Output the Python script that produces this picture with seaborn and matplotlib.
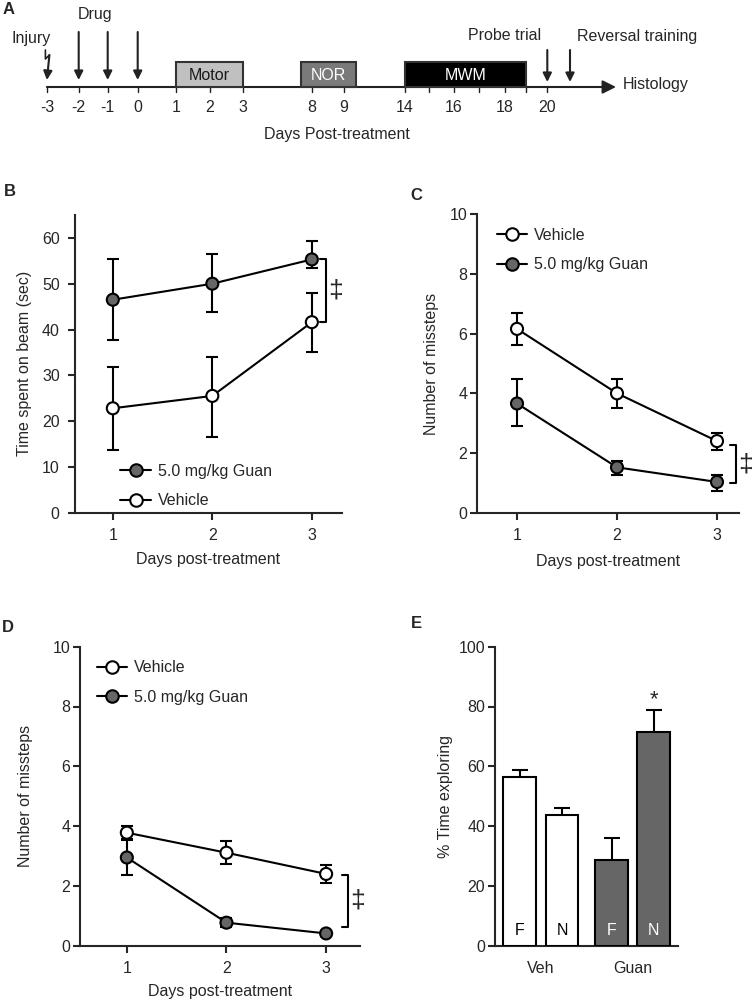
import numpy as np
import pandas as pd
import matplotlib
matplotlib.use("Agg")
import matplotlib.pyplot as plt
from matplotlib.lines import Line2D
import seaborn as sns

sns.set_theme(style="ticks")
plt.rcParams['font.family'] = ['Liberation Sans', 'DejaVu Sans']

# ---- data ----
days = [1, 2, 3]
groups = ["Vehicle", "5.0 mg/kg Guan"]

# B: time spent on beam (sec)
beam_veh = [22.8, 25.5, 41.6]
beam_veh_lo = [9.1, 8.9, 6.5]
beam_veh_hi = [9.1, 8.6, 6.4]
beam_guan = [46.5, 50.0, 55.3]
beam_guan_lo = [8.7, 6.2, 1.9]
beam_guan_hi = [8.8, 6.4, 4.0]

# C: number of missteps
stepC_veh = [6.16, 4.0, 2.4]
stepC_veh_lo = [0.55, 0.48, 0.30]
stepC_veh_hi = [0.52, 0.47, 0.28]
stepC_guan = [3.66, 1.52, 1.03]
stepC_guan_lo = [0.76, 0.26, 0.29]
stepC_guan_hi = [0.81, 0.22, 0.25]

# D: number of missteps
stepD_veh = [3.78, 3.11, 2.40]
stepD_veh_err = [0.22, 0.39, 0.29]
stepD_guan = [2.95, 0.77, 0.41]
stepD_guan_err = [0.60, 0.14, 0.04]

# E: % time exploring
e_groups = ["Veh", "Veh", "Guan", "Guan"]
e_objects = ["F", "N", "F", "N"]
e_values = [56.3, 43.6, 28.7, 71.5]
e_err = [2.3, 2.3, 7.2, 7.3]

# A: timeline (days post-treatment)
tl_days = [-3, -2, -1, 0, 1, 2, 3, 8, 9, 14, 16, 18, 20]
tl_minor = [15, 17, 19]
drug_days = [-2, -1, 0]
injury_day = -3
probe_days = [20, 21]
phase_names = ["Motor", "NOR", "MWM"]
phase_start = [1, 7.2, 14]
phase_end = [3, 10, 19]
phase_fill = ["#c0c0c0", "#7a7a7a", "#000000"]
phase_text = ["#1a1a1a", "white", "white"]

GRAY = "#666666"
LW = 1.5
FS = 11.5

fig = plt.figure(figsize=(7.52, 10), dpi=100)


def rect(l, r, b, t):
    return [l / 752, 1 - b / 1000, (r - l) / 752, (b - t) / 1000]


# ---------------- panel A ----------------
axA = fig.add_axes([0, 1 - 0.145, 1, 0.145])
axA.set_xlim(0, 75.2)
axA.set_ylim(145, 0)
axA.axis("off")
# schematic (non-linear) timeline scale
scale_days = [-3, -2, -1, 0, 1, 2, 3, 8, 9, 14, 16, 18, 20, 21]
scale_pos = [4.69, 7.87, 10.77, 13.77, 17.63, 21.0, 24.25, 31.16, 34.4,
             40.48, 45.4, 50.48, 54.73, 57.0]


def tl(d):
    return np.interp(d, scale_days, scale_pos)


y0 = 87
axA.annotate("", xy=(tl(21) + 4.6, y0), xytext=(tl(-3), y0),
             arrowprops=dict(arrowstyle="-|>", lw=LW, color="#222222",
                             mutation_scale=20, shrinkA=0, shrinkB=0))
for d in tl_days + tl_minor:
    axA.plot([tl(d), tl(d)], [y0, y0 + 5], color="#222222", lw=1)
for d in tl_days:
    axA.text(tl(d), 108, str(d), ha="center", va="center", fontsize=FS)
for name, s, e, fc, tc in zip(phase_names, phase_start, phase_end, phase_fill, phase_text):
    axA.add_patch(plt.Rectangle((tl(s), 62), tl(e) - tl(s), y0 - 62,
                                facecolor=fc, edgecolor="#333333", lw=1.5, zorder=3))
    axA.text((tl(s) + tl(e)) / 2, 75, name, ha="center", va="center",
             fontsize=FS, color=tc, zorder=4)
arrow_kw = dict(arrowstyle="-|>", lw=1.5, color="#222222", mutation_scale=13,
                shrinkA=0, shrinkB=0)
for d in drug_days:
    axA.annotate("", xy=(tl(d), 80), xytext=(tl(d), 32), arrowprops=arrow_kw)
for d in probe_days:
    axA.annotate("", xy=(tl(d), 82), xytext=(tl(d), 50), arrowprops=arrow_kw)
# injury bolt
xi = tl(injury_day)
axA.plot([xi - 0.15, xi - 0.15, xi + 0.25], [50, 59, 55], color="#222222", lw=1.2)
axA.annotate("", xy=(xi, 80), xytext=(xi + 0.25, 55), arrowprops=arrow_kw)
axA.text(xi - 1.55, 39, "Injury", ha="center", va="center", fontsize=FS)
axA.text(tl(-1.45), 14, "Drug", ha="center", va="center", fontsize=FS)
axA.text(tl(18), 36, "Probe trial", ha="center", va="center", fontsize=FS)
axA.text(tl(21) + 6.7, 36, "Reversal training", ha="center", va="center", fontsize=FS)
axA.text(tl(21) + 5.3, y0 - 2, "Histology", ha="left", va="center", fontsize=FS)
axA.text(tl(8) + 2.5, 135, "Days Post-treatment", ha="center", va="center", fontsize=FS)


# ---------------- line panels ----------------
faces = {"Vehicle": "white", "5.0 mg/kg Guan": GRAY}


def line_panel(ax, series, order, bracket, legend_loc):
    rows = []
    for g in groups:
        mean, lo, hi = series[g]
        ax.errorbar(days, mean, yerr=[lo, hi], fmt="none", ecolor="black",
                    elinewidth=LW, capsize=4.2, capthick=LW, zorder=2)
        for d, m in zip(days, mean):
            rows.append({"day": d, "value": m, "group": g})
    df = pd.DataFrame(rows)
    sns.lineplot(data=df, x="day", y="value", hue="group",
                 palette={g: "black" for g in groups}, linewidth=LW,
                 legend=False, ax=ax, zorder=3)
    sns.scatterplot(data=df, x="day", y="value", hue="group", palette=faces,
                    edgecolor="black", linewidth=LW, s=75, legend=False,
                    ax=ax, zorder=4)
    top, bot, bx = bracket
    ax.plot([bx - 0.06, bx, bx, bx - 0.06], [top, top, bot, bot],
            color="black", lw=LW, clip_on=False)
    ax.text(bx + 0.1, (top + bot) / 2, "\u2021", ha="center", va="center",
            fontsize=19, clip_on=False)
    handles = [Line2D([0], [0], color="black", lw=LW, marker="o", markersize=9,
                      markerfacecolor=faces[g], markeredgecolor="black",
                      markeredgewidth=LW) for g in order]
    ax.legend(handles, order, frameon=False, fontsize=FS, handlelength=1.9,
              handletextpad=0.45, labelspacing=0.9, borderpad=0,
              borderaxespad=0, **legend_loc)
    ax.set_xticks(days)
    ax.set_xlabel("Days post-treatment", fontsize=FS)
    ax.set_ylabel("Number of missteps", fontsize=FS)
    for s in ["left", "bottom"]:
        ax.spines[s].set_linewidth(LW)
    sns.despine(ax=ax)
    ax.tick_params(axis="both", direction="out", length=5, width=LW,
                   labelsize=FS)
    ax.tick_params(axis="x", pad=6)


# B
axB = fig.add_axes(rect(75, 341.7, 512.7, 215))
line_panel(axB,
           {"Vehicle": (beam_veh, beam_veh_lo, beam_veh_hi),
            "5.0 mg/kg Guan": (beam_guan, beam_guan_lo, beam_guan_hi)},
           ["5.0 mg/kg Guan", "Vehicle"],
           (beam_guan[2], beam_veh[2], 3.14),
           dict(loc="lower left", bbox_to_anchor=(0.17, 0.015)))
axB.set_xlim(0.62, 3.3)
axB.set_ylim(0, 65)
axB.set_yticks(range(0, 61, 10))
axB.set_ylabel("Time spent on beam (sec)", fontsize=FS)
axB.tick_params(axis="y", pad=6)

# C
axC = fig.add_axes(rect(477, 739, 512.7, 214.3))
line_panel(axC,
           {"Vehicle": (stepC_veh, stepC_veh_lo, stepC_veh_hi),
            "5.0 mg/kg Guan": (stepC_guan, stepC_guan_lo, stepC_guan_hi)},
           ["Vehicle", "5.0 mg/kg Guan"],
           (stepC_veh[2] - 0.12, stepC_guan[2] - 0.05, 3.19),
           dict(loc="upper left", bbox_to_anchor=(0.075, 0.955)))
axC.set_xlim(0.6, 3.22)
axC.set_ylim(0, 10)
axC.set_yticks(range(0, 11, 2))
axC.tick_params(axis="y", pad=2)

# D
axD = fig.add_axes(rect(80, 360, 945.7, 646.7))
line_panel(axD,
           {"Vehicle": (stepD_veh, stepD_veh_err, stepD_veh_err),
            "5.0 mg/kg Guan": (stepD_guan, stepD_guan_err, stepD_guan_err)},
           ["Vehicle", "5.0 mg/kg Guan"],
           (stepD_veh[2] - 0.05, stepD_guan[2] + 0.23, 3.22),
           dict(loc="upper left", bbox_to_anchor=(0.06, 0.955)))
axD.set_xlim(0.53, 3.34)
axD.set_ylim(0, 10)
axD.set_yticks(range(0, 11, 2))
axD.tick_params(axis="y", pad=2)

# ---------------- panel E ----------------
axE = fig.add_axes(rect(495, 677.7, 945.7, 646.7))
df_e = pd.DataFrame({"group": e_groups, "object": e_objects, "value": e_values,
                     "err": e_err})
sns.barplot(data=df_e, x="group", y="value", hue="object", width=0.92, gap=0.22,
            errorbar=None, legend=False, edgecolor="black", linewidth=LW,
            ax=axE)
order_g = ["Veh", "Guan"]
for cont, obj in zip(axE.containers, ["F", "N"]):
    for bar, g in zip(cont, order_g):
        row = df_e[(df_e.group == g) & (df_e.object == obj)].iloc[0]
        dark = g == "Guan"
        bar.set_facecolor(GRAY if dark else "white")
        bar.set_zorder(3)
        cx = bar.get_x() + bar.get_width() / 2
        axE.errorbar(cx, row.value, yerr=row.err, fmt="none", ecolor="black",
                     elinewidth=LW, capsize=6, capthick=LW, zorder=2)
        axE.text(cx, 5, obj, ha="center", va="center", fontsize=FS,
                 color="white" if dark else "black", zorder=4)
        if g == "Guan" and obj == "N":
            axE.text(cx, row.value + row.err + 3.5, "*", ha="center",
                     va="center", fontsize=16)
axE.set_xlim(-0.5, 1.49)
axE.set_ylim(0, 100)
axE.set_yticks(range(0, 101, 20))
axE.set_xlabel("")
axE.set_ylabel("% Time exploring", fontsize=FS)
for s in ["left", "bottom"]:
    axE.spines[s].set_linewidth(LW)
sns.despine(ax=axE)
axE.tick_params(axis="y", direction="out", length=5, width=LW, labelsize=FS, pad=2)
axE.tick_params(axis="x", length=0, labelsize=FS, pad=11)

# label placement
axB.yaxis.set_label_coords(-0.16, 0.5)
axC.yaxis.set_label_coords(-0.145, 0.5)
axD.yaxis.set_label_coords(-0.168, 0.5)
axE.yaxis.set_label_coords(-0.23, 0.5)
axB.xaxis.set_label_coords(0.5, -0.132)
axC.xaxis.set_label_coords(0.5, -0.138)
axD.xaxis.set_label_coords(0.5, -0.128)

# panel letters
for letter, x, y in [("A", 3, 9), ("B", 4, 192), ("C", 410, 195),
                     ("D", 2, 628), ("E", 411, 623)]:
    fig.text(x / 752, 1 - y / 1000, letter, fontsize=12, fontweight="bold",
             ha="left", va="center")

fig.savefig("out.png", dpi=100)
